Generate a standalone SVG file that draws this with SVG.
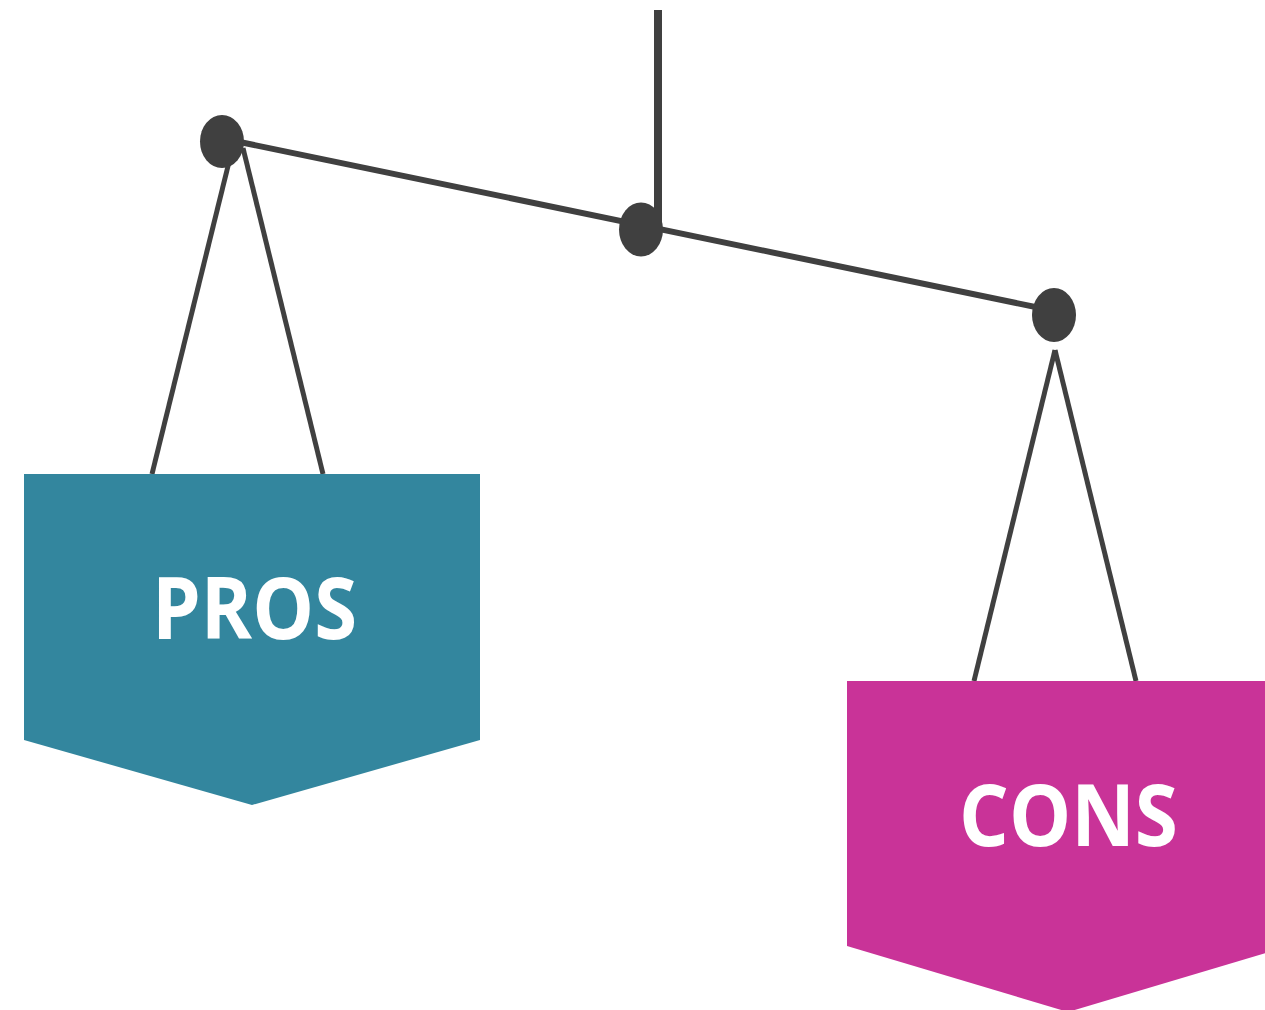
<svg xmlns="http://www.w3.org/2000/svg" width="1265" height="1010" viewBox="0 0 1265 1010">
<style>
.rope{stroke:#404040;stroke-width:5;fill:none;stroke-linecap:butt}
.beam{stroke:#404040;stroke-width:6;fill:none}
.pivot{fill:#404040}
.lbl{font-family:"Open Sans","Liberation Sans",sans-serif;font-weight:700;font-size:86px;fill:#ffffff;text-anchor:middle}
</style>
<rect width="1265" height="1010" fill="#ffffff"/>
<g id="connectors">
<line class="beam" x1="658" y1="10" x2="658" y2="229" style="stroke-width:8"/>
<line class="beam" x1="230" y1="140" x2="1050" y2="310"/>
<line class="rope" x1="230" y1="158" x2="152" y2="474"/>
<line class="rope" x1="243" y1="148" x2="323" y2="474"/>
<line class="rope" x1="1055" y1="350" x2="974" y2="681"/>
<line class="rope" x1="1055" y1="350" x2="1136" y2="681"/>
</g>
<g id="pivot-left"><ellipse class="pivot" cx="222" cy="141.5" rx="22" ry="26.5"/></g>
<g id="pivot-center"><ellipse class="pivot" cx="641" cy="229.5" rx="22" ry="27"/></g>
<g id="pivot-right"><ellipse class="pivot" cx="1054" cy="315" rx="22" ry="27"/></g>
<g id="pros">
<polygon points="24,474 480,474 480,740 252,805 24,740" fill="#33869E"/>
<text class="lbl" x="254.5" y="639" textLength="205" lengthAdjust="spacingAndGlyphs">PROS</text>
</g>
<g id="cons">
<polygon points="847,681 1289,681 1289,946 1068,1012 847,946" fill="#C93398"/>
<text class="lbl" x="1068.5" y="846" textLength="219" lengthAdjust="spacingAndGlyphs">CONS</text>
</g>
</svg>
